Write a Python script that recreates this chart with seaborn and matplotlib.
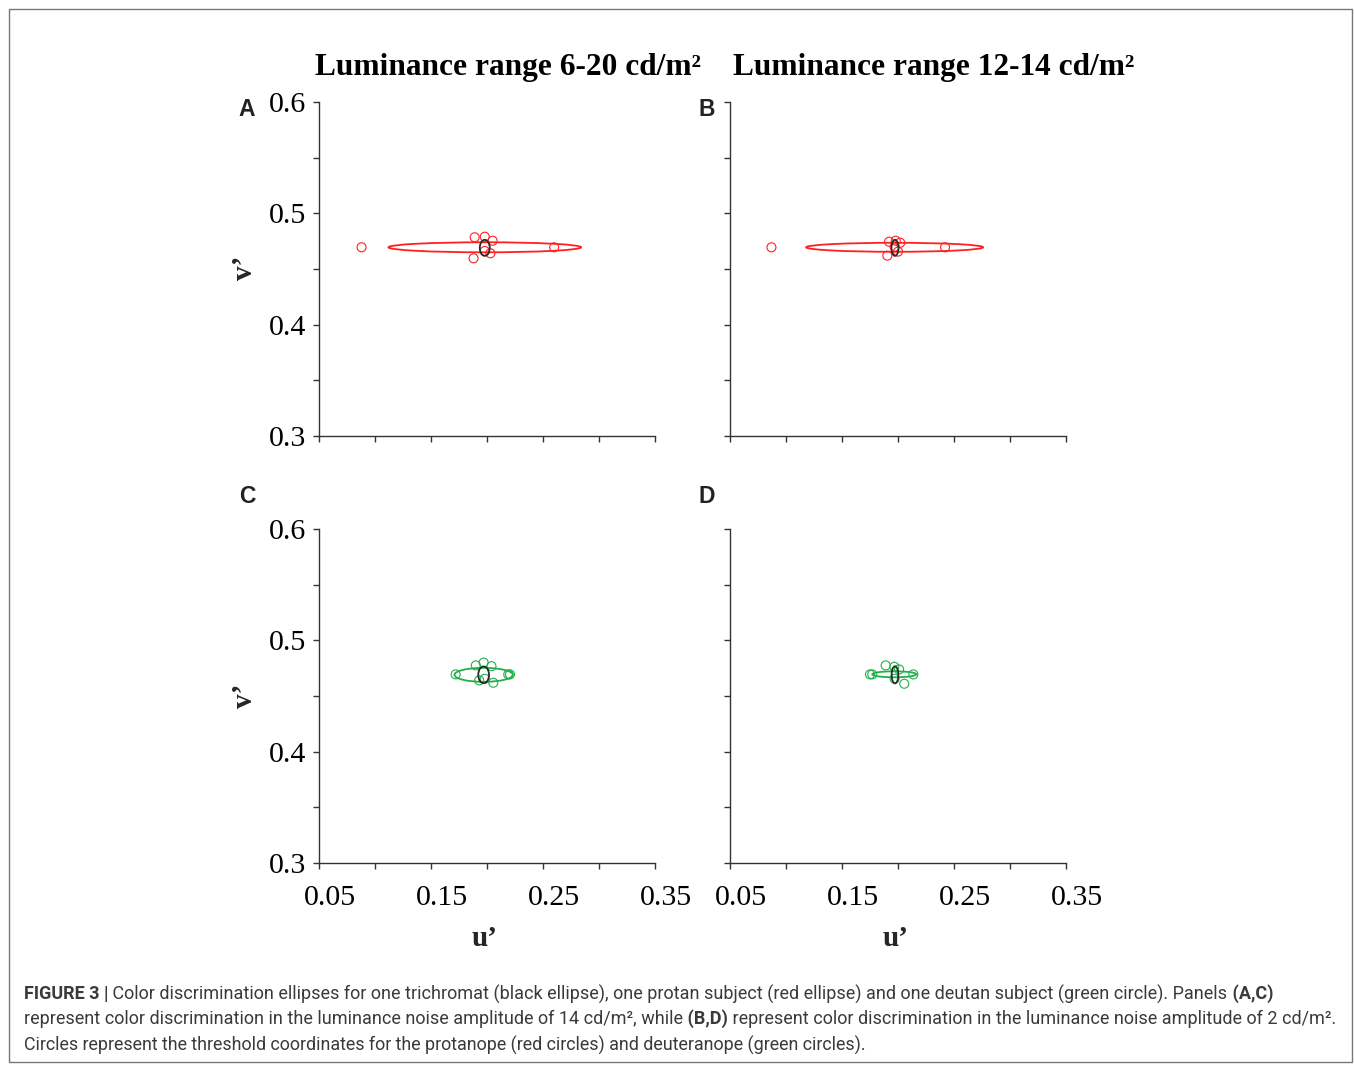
import numpy as np
import pandas as pd
import seaborn as sns
import matplotlib
matplotlib.use("Agg")
import matplotlib.pyplot as plt
from matplotlib.patches import Ellipse, Rectangle
import matplotlib.transforms as mtransforms

sns.set_style("white")

# %% data (u', v' coordinates)
# threshold circles, protanope (red) in A/B, deuteranope (green) in C/D
a_u = [0.088, 0.189, 0.198, 0.205, 0.260, 0.188, 0.203, 0.198]
a_v = [0.4695, 0.4785, 0.479, 0.4754, 0.4695, 0.4596, 0.4641, 0.4662]
b_u = [0.087, 0.192, 0.198, 0.202, 0.242, 0.1905, 0.200, 0.197]
b_v = [0.4695, 0.4745, 0.4754, 0.4736, 0.4695, 0.462, 0.4656, 0.4700]
c_u = [0.172, 0.190, 0.197, 0.204, 0.2205, 0.193, 0.2056, 0.198, 0.219]
c_v = [0.4694, 0.4775, 0.480, 0.4768, 0.4694, 0.464, 0.4619, 0.4655, 0.4694]
d_u = [0.177, 0.189, 0.1967, 0.201, 0.2137, 0.2056, 0.197, 0.175]
d_v = [0.4694, 0.4775, 0.4763, 0.4739, 0.4694, 0.461, 0.4655, 0.4694]

# ellipses: centre u, centre v, full width (u), full height (v)
ell_a = [(0.198, 0.4695, 0.172, 0.009), (0.198, 0.469, 0.0089, 0.0144)]
ell_b = [(0.197, 0.4695, 0.158, 0.0081), (0.1973, 0.469, 0.0063, 0.0144)]
ell_c = [(0.197, 0.469, 0.0521, 0.0126), (0.197, 0.469, 0.0096, 0.015)]
ell_d = [(0.1967, 0.4695, 0.0393, 0.0054), (0.1973, 0.469, 0.006, 0.0153)]

titles = ["Luminance range 6-20 cd/m²", "Luminance range 12-14 cd/m²"]
letters = ["A", "B", "C", "D"]
xticks = [0.05, 0.10, 0.15, 0.20, 0.25, 0.30, 0.35]
xlabels = ["0.05", "", "0.15", "", "0.25", "", "0.35"]
yticks = [0.30, 0.35, 0.40, 0.45, 0.50, 0.55, 0.60]
ylabels = ["0.3", "", "0.4", "", "0.5", "", "0.6"]

RED = "#ff2020"
GREEN = "#22b04a"
ELL_BLACK = "#2a2a2a"
SERIF = "Liberation Serif"

W, H = 1354, 1066
fig = plt.figure(figsize=(W / 100, H / 100), dpi=100)


def px(x, y):
    return x / W, 1 - y / H


panels = [
    (319, 436, a_u, a_v, ell_a, RED, True, False),
    (730, 436, b_u, b_v, ell_b, RED, False, False),
    (319, 863, c_u, c_v, ell_c, GREEN, True, True),
    (730, 863, d_u, d_v, ell_d, GREEN, False, True),
]

for i, (x0, y0, us, vs, ells, col, lefty, bottomx) in enumerate(panels):
    l, b = px(x0, y0)
    ax = fig.add_axes([l, b, 336 / W, 334 / H])
    df = pd.DataFrame({"u": us, "v": vs})
    sns.scatterplot(data=df, x="u", y="v", ax=ax, s=42, marker="o",
                    facecolors="none", edgecolor=col, linewidth=0.8, zorder=3)
    for k, (cu, cv, w, h) in enumerate(ells):
        ax.add_patch(Ellipse((cu, cv), w, h, fill=False,
                             edgecolor=col if k == 0 else ELL_BLACK,
                             lw=1.3, zorder=2 if k == 0 else 4))
    ax.set_xlim(0.05, 0.35)
    ax.set_ylim(0.30, 0.60)
    ax.set_xlabel("")
    ax.set_ylabel("")
    for s in ["top", "right"]:
        ax.spines[s].set_visible(False)
    for s in ["left", "bottom"]:
        ax.spines[s].set_color("#333333")
        ax.spines[s].set_linewidth(1.0)
    ax.set_xticks(xticks)
    ax.set_yticks(yticks)
    ax.set_xticklabels(xlabels if bottomx else [""] * len(xticks))
    ax.set_yticklabels(ylabels if lefty else [""] * len(yticks))
    ax.tick_params(axis="both", direction="out", length=4, width=1.0,
                   color="#333333", labelsize=21.5, left=True, bottom=True)
    ax.tick_params(axis="x", pad=12)
    ax.tick_params(axis="y", pad=5)
    for t in ax.get_xticklabels() + ax.get_yticklabels():
        t.set_fontfamily(SERIF)
        t.set_color("black")
    offset = mtransforms.ScaledTranslation(0.11, 0, fig.dpi_scale_trans)
    for t in ax.get_xticklabels():
        t.set_transform(t.get_transform() + offset)
    ax.set_facecolor("none")

# titles, panel letters, axis labels
for t, cx in zip(titles, [508, 934]):
    fig.text(*px(cx, 67), t, ha="center", va="center", fontsize=22.6,
             fontweight="bold", family=SERIF, color="black")
for t, (lx, ly) in zip(letters, [(247, 109), (707, 109), (247, 497), (707, 497)]):
    fig.text(*px(lx, ly), t, ha="center", va="center", fontsize=16.5,
             fontweight="bold", family="Liberation Sans", color="#222222")
for ly in [268, 696]:
    fig.text(*px(245, ly), "v’", ha="center", va="center", fontsize=21,
             fontweight="bold", family=SERIF, rotation=90)
for lx in [485, 896]:
    fig.text(*px(lx, 938), "u’", ha="center", va="center", fontsize=21,
             fontweight="bold", family=SERIF)

# caption
line1 = [("FIGURE 3 |", "bold"),
         (" Color discrimination ellipses for one trichromat (black ellipse), one protan subject "
          "(red ellipse) and one deutan subject (green circle). Panels", "normal"),
         (" (A,C)", "bold")]
line2 = [("represent color discrimination in the luminance noise amplitude of 14 cd/m², while", "normal"),
         (" (B,D)", "bold"),
         (" represent color discrimination in the luminance noise amplitude of 2 cd/m².", "normal")]
line3 = [("Circles represent the threshold coordinates for the protanope (red circles) "
          "and deuteranope (green circles).", "normal")]
cap_widths = [1248, 1306, 844]

fig.canvas.draw()
renderer = fig.canvas.get_renderer()
base = 13.0
for parts, y, target in zip([line1, line2, line3], [994, 1019, 1045], cap_widths):
    total = 0
    for txt, wt in parts:
        tt = fig.text(0, 0, txt, fontweight=wt, fontsize=base, family="Roboto")
        total += tt.get_window_extent(renderer=renderer).width
        tt.remove()
    size = base * target / total
    x = 24 / W
    for txt, wt in parts:
        tt = fig.text(x, 1 - y / H, txt, fontweight=wt, fontsize=size,
                      family="Roboto", color="#3a3a3a", va="center")
        x += tt.get_window_extent(renderer=renderer).width / W

fig.patches.append(Rectangle(px(9, 1062), 1343 / W, 1053 / H, fill=False,
                             edgecolor="#777777", lw=1.0,
                             transform=fig.transFigure, figure=fig))

fig.savefig("out.png", dpi=100)
